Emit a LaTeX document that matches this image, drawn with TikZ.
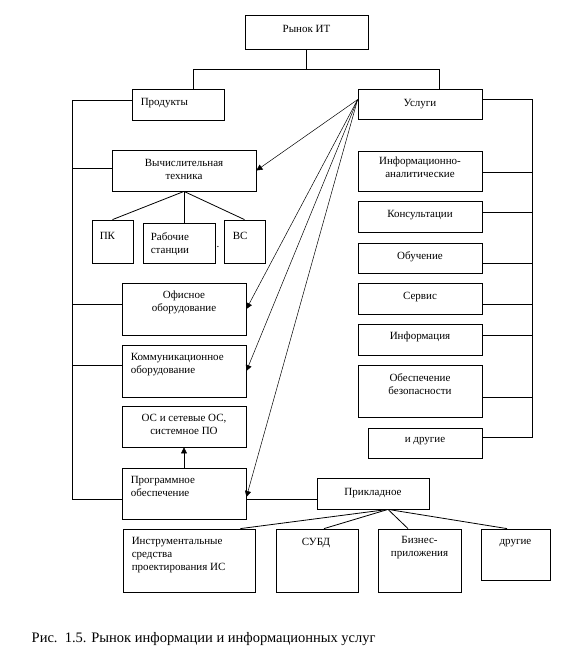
\documentclass[tikz,border=0pt]{standalone}
\usepackage{fontspec}
\setmainfont{Liberation Serif}
\usetikzlibrary{arrows.meta}
\tikzset{
	box/.style={draw, line width=.8pt, inner sep=0pt},
	txt/.style={inner sep=0pt, font=\fontsize{11}{13}\selectfont, align=center},
	txtl/.style={inner sep=0pt, font=\fontsize{11}{13}\selectfont, align=left},
	lnk/.style={line width=.8pt},
	arr/.style={line width=.5pt, -{Triangle[length=6pt,width=6pt]}}
}
\begin{document}
\begin{tikzpicture}[x=1pt, y=-1pt]
	\useasboundingbox (0,0) rectangle (563,648);
	\node[box, minimum width=123pt, minimum height=34pt, label={[txt, anchor=north, yshift=-10pt]north:Рынок ИТ}] (market) at (306.5,32) {};
	\node[box, minimum width=92pt, minimum height=31pt, label={[txtl, anchor=north west, xshift=9pt, yshift=-9pt]north west:Продукты}] (prod) at (178,104.5) {};
	\node[box, minimum width=124pt, minimum height=30pt, label={[txt, anchor=north, yshift=-10.5pt]north:Услуги}] (serv) at (420,104) {};
	
	\node[box, minimum width=144pt, minimum height=41pt, label={[txt, anchor=north, yshift=-9pt]north:Вычислительная\\техника}] (vt) at (184,170.5) {};
	\node[box, minimum width=41pt, minimum height=43pt, label={[txtl, anchor=north west, xshift=8pt, yshift=-12.5pt]north west:ПК}] (pc) at (112.5,241.5) {};
	\node[box, minimum width=72pt, minimum height=40pt, label={[txtl, anchor=north west, xshift=8pt, yshift=-10pt]north west:Рабочие\\станции}] (work) at (179,243) {};
	\node[box, minimum width=41pt, minimum height=43pt, label={[txtl, anchor=north west, xshift=9pt, yshift=-12.5pt]north west:ВС}] (bc) at (244.5,241.5) {};
	\node[txt] (dot) at (218,247) {.};
	\node[box, minimum width=124pt, minimum height=52pt, label={[txt, anchor=north, yshift=-8.5pt]north:Офисное\\оборудование}] (office) at (184,309) {};
	\node[box, minimum width=124pt, minimum height=52pt, label={[txtl, anchor=north west, xshift=9pt, yshift=-8.5pt]north west:Коммуникационное\\оборудование}] (comm) at (184,371) {};
	\node[box, minimum width=124pt, minimum height=41pt, label={[txt, anchor=north, yshift=-8pt]north:{ОС и сетевые ОС,\\системное ПО}}] (os) at (184,426.5) {};
	\node[box, minimum width=124pt, minimum height=51pt, label={[txtl, anchor=north west, xshift=9pt, yshift=-8.5pt]north west:Программное\\обеспечение}] (prog) at (184,493.5) {};
	
	\node[box, minimum width=112pt, minimum height=31pt, label={[txt, anchor=north, yshift=-10pt]north:Прикладное}] (prikl) at (373,493.5) {};
	\node[box, minimum width=132pt, minimum height=63pt, label={[txtl, anchor=north west, xshift=9pt, yshift=-8.5pt]north west:Инструментальные\\средства\\проектирования ИС}] (tools) at (189,560.5) {};
	\node[box, minimum width=82pt, minimum height=63pt, label={[txtl, anchor=north west, xshift=26pt, yshift=-9pt]north west:СУБД}] (subd) at (317,560.5) {};
	\node[box, minimum width=83pt, minimum height=63pt, label={[txt, anchor=north, yshift=-7.5pt]north:Бизнес-\\приложения}] (biz) at (419.5,560.5) {};
	\node[box, minimum width=69pt, minimum height=51pt, label={[txt, anchor=north, yshift=-11pt]north:другие}] (other) at (515.5,554.5) {};
	
	\node[box, minimum width=124pt, minimum height=40pt, label={[txt, anchor=north, yshift=-6.5pt]north:Информационно-\\аналитические}] (ia) at (420,171) {};
	\node[box, minimum width=124pt, minimum height=31pt, label={[txt, anchor=north, yshift=-9pt]north:Консультации}] (cons) at (420,216.5) {};
	\node[box, minimum width=124pt, minimum height=30pt, label={[txt, anchor=north, yshift=-8.5pt]north:Обучение}] (edu) at (420,258) {};
	\node[box, minimum width=124pt, minimum height=31pt, label={[txt, anchor=north, yshift=-9pt]north:Сервис}] (servis) at (420,298.5) {};
	\node[box, minimum width=124pt, minimum height=31pt, label={[txt, anchor=north, yshift=-8.5pt]north:Информация}] (info) at (420,339.5) {};
	\node[box, minimum width=124pt, minimum height=52pt, label={[txt, anchor=north, yshift=-8.5pt]north:Обеспечение\\безопасности}] (sec) at (420,391) {};
	\node[box, minimum width=114pt, minimum height=30pt, label={[txt, anchor=north, yshift=-9.5pt]north:и другие}] (others) at (425,443) {};
	
	\node[inner sep=0pt, anchor=base west, font=\fontsize{14.5}{17}\selectfont] (caption) at (31.5,642) {Рис.\ \ 1.5. Рынок информации и информационных услуг};
	
	\draw[lnk] (market.south) -- ++(0,20) coordinate (fork);
	\draw[lnk] ([xshift=62pt]prod.north west) |- (fork) -| ([xshift=82pt]serv.north west);
	
	\coordinate (ltop) at (72,100);
	\coordinate (rtop) at (532,99);
	\draw[lnk] ([yshift=4.5pt]prod.west) -- (ltop);
	\draw[lnk] ([yshift=2.5pt]vt.west) -| (ltop);
	\draw[lnk] ([yshift=5pt]office.west) -| (ltop);
	\draw[lnk] ([yshift=6pt]comm.west) -| (ltop);
	\draw[lnk] ([yshift=-5.5pt]prog.west) -| (ltop);
	
	\draw[lnk] ([yshift=5pt]serv.east) -- (rtop);
	\draw[lnk] ([yshift=-1pt]ia.east) -| (rtop);
	\draw[lnk] ([yshift=4.5pt]cons.east) -| (rtop);
	\draw[lnk] ([yshift=-5pt]edu.east) -| (rtop);
	\draw[lnk] ([yshift=-5.5pt]servis.east) -| (rtop);
	\draw[lnk] ([yshift=4.5pt]info.east) -| (rtop);
	\draw[lnk] ([yshift=-6pt]sec.east) -| (rtop);
	\draw[lnk] ([yshift=6pt]others.east) -| (rtop);
	
	\draw[lnk] (vt.south) -- (pc.north);
	\draw[lnk] (vt.south) -- (vt.south |- work.north);
	\draw[lnk] (vt.south) -- (bc.north);
	
	\foreach \t in {vt,office,comm}
		\draw[arr] ([yshift=-11pt]serv.north west) -- (\t.east);
	\draw[arr] ([yshift=-11pt]serv.north west) -- ([yshift=-3.5pt]prog.east);
	\draw[arr] (prog.north) -- (os.south);
	
	\draw[lnk] ([yshift=-5.5pt]prog.east) -- ([yshift=-5.5pt]prikl.west);
	\coordinate (hub) at ([xshift=15pt]prikl.south);
	\draw[lnk] (hub) -- ([xshift=-15pt]tools.north east);
	\draw[lnk] (hub) -- ([xshift=7pt]subd.north);
	\draw[lnk] (hub) -- ([xshift=-11.5pt]biz.north);
	\draw[lnk] (hub) -- ([xshift=-8.5pt]other.north);
\end{tikzpicture}
\end{document}
